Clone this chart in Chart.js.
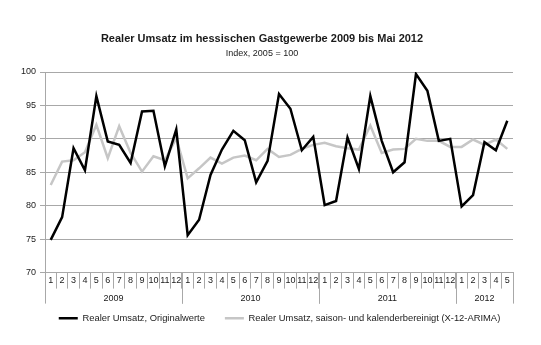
<!DOCTYPE html>
<html lang="de">
<head>
<meta charset="utf-8" />
<title>Realer Umsatz im hessischen Gastgewerbe</title>
<style>
  html, body { margin: 0; padding: 0; background: #fff; }
  #umsatz { display: block; }
</style>
</head>
<body>
<canvas id="umsatz" width="541" height="345"></canvas>
<script src="https://cdn.jsdelivr.net/npm/chart.js@4/dist/chart.umd.min.js"></script>
<script>
// Monate Januar 2009 bis Mai 2012
const monate = ['1','2','3','4','5','6','7','8','9','10','11','12',
                '1','2','3','4','5','6','7','8','9','10','11','12',
                '1','2','3','4','5','6','7','8','9','10','11','12',
                '1','2','3','4','5'];
const jahre = ['2009', '2010', '2011', '2012'];
const monateProJahr = [12, 12, 12, 5];

// Index, 2005 = 100
const originalwerte = [
  74.9, 78.3, 88.6, 85.3, 96.4, 89.6, 89.1, 86.4, 94.1, 94.2, 85.9, 91.4,
  75.6, 77.9, 84.6, 88.4, 91.2, 89.8, 83.5, 86.7, 96.7, 94.5, 88.3, 90.3,
  80.1, 80.7, 90.2, 85.5, 96.4, 89.7, 85.0, 86.5, 99.7, 97.2, 89.7, 90.0,
  79.9, 81.6, 89.5, 88.3, 92.7
];
const bereinigt = [
  83.1, 86.6, 86.8, 88.0, 92.1, 87.1, 91.9, 87.9, 85.1, 87.4, 86.8, 90.1,
  84.1, 85.6, 87.2, 86.3, 87.2, 87.5, 86.8, 88.5, 87.3, 87.6, 88.5, 89.1,
  89.4, 88.9, 88.6, 88.4, 92.0, 87.9, 88.4, 88.5, 90.0, 89.7, 89.7, 88.8,
  88.8, 89.9, 89.1, 89.9, 88.5
];
const yTicks = [70, 75, 80, 85, 90, 95, 100];

const titel = 'Realer Umsatz im hessischen Gastgewerbe 2009 bis Mai 2012';
const untertitel = 'Index, 2005 = 100';

const schrift = '"Liberation Sans", Arial, sans-serif';
const textFarbe = '#1a1a1a';
const gitterFarbe = '#a8a8a8';

// Titel und Untertitel ueber dem Diagramm
const titelZeilen = {
  id: 'titelZeilen',
  afterDraw(chart) {
    const ctx = chart.ctx;
    ctx.save();
    ctx.fillStyle = textFarbe;
    ctx.textAlign = 'center';
    ctx.textBaseline = 'middle';
    ctx.font = 'bold 11px ' + schrift;
    ctx.fillText(titel, 262, 39);
    ctx.font = '9px ' + schrift;
    ctx.fillText(untertitel, 262, 54);
    ctx.restore();
  }
};

// zweite Achsenzeile mit den Jahren und Trennstrichen
const jahresAchse = {
  id: 'jahresAchse',
  afterDraw(chart) {
    const x = chart.scales.x;
    const ctx = chart.ctx;
    const unten = chart.chartArea.bottom;
    const halb = (x.getPixelForValue(1) - x.getPixelForValue(0)) / 2;
    ctx.save();
    ctx.strokeStyle = gitterFarbe;
    ctx.lineWidth = 1;
    ctx.fillStyle = textFarbe;
    ctx.font = '9px ' + schrift;
    ctx.textAlign = 'center';
    ctx.textBaseline = 'middle';
    let start = 0;
    jahre.forEach((jahr, j) => {
      const ende = start + monateProJahr[j] - 1;
      const links = x.getPixelForValue(start) - halb;
      const rechts = x.getPixelForValue(ende) + halb;
      [links, rechts].forEach(px => {
        const p = Math.round(px) + 0.5;
        ctx.beginPath();
        ctx.moveTo(p, unten);
        ctx.lineTo(p, unten + 31);
        ctx.stroke();
      });
      ctx.fillText(jahr, (links + rechts) / 2, unten + 26);
      start = ende + 1;
    });
    ctx.restore();
  }
};

new Chart(document.getElementById('umsatz'), {
  type: 'line',
  data: {
    labels: monate,
    datasets: [
      {
        label: 'Realer Umsatz, Originalwerte',
        data: originalwerte,
        borderColor: '#000000',
        backgroundColor: '#000000',
        borderWidth: 2.5,
        pointRadius: 0,
        pointStyle: 'line',
        tension: 0
      },
      {
        label: 'Realer Umsatz, saison- und kalenderbereinigt (X-12-ARIMA)',
        data: bereinigt,
        borderColor: '#c6c6c6',
        backgroundColor: '#c6c6c6',
        borderWidth: 2.5,
        pointRadius: 0,
        pointStyle: 'line',
        tension: 0
      }
    ]
  },
  options: {
    responsive: false,
    animation: false,
    layout: { padding: { top: 72, right: 0, bottom: 12, left: 18 } },
    scales: {
      x: {
        offset: true,
        grid: {
          offset: true,
          drawOnChartArea: false,
          drawTicks: true,
          tickLength: 16,
          color: gitterFarbe
        },
        border: { color: gitterFarbe },
        ticks: {
          autoSkip: false,
          maxRotation: 0,
          padding: -13,
          color: textFarbe,
          font: { family: schrift, size: 9 }
        },
        afterFit(s) { s.height = 21; }
      },
      y: {
        min: yTicks[0],
        max: yTicks[yTicks.length - 1],
        afterBuildTicks(s) { s.ticks = yTicks.map(v => ({ value: v })); },
        grid: { color: gitterFarbe, tickLength: 5 },
        border: { color: gitterFarbe },
        ticks: {
          padding: 4,
          color: textFarbe,
          font: { family: schrift, size: 9 }
        },
        afterFit(s) { s.width = 27; }
      },
      rechts: {
        position: 'right',
        display: true,
        grid: { display: false },
        border: { display: false },
        ticks: { display: false },
        afterFit(s) { s.width = 28; }
      }
    },
    plugins: {
      title: { display: false },
      tooltip: { enabled: false },
      legend: {
        position: 'bottom',
        labels: {
          usePointStyle: true,
          pointStyle: 'line',
          pointStyleWidth: 19,
          padding: 20,
          color: textFarbe,
          font: { family: schrift, size: 9.4 }
        }
      }
    }
  },
  plugins: [titelZeilen, jahresAchse]
});
</script>
</body>
</html>
